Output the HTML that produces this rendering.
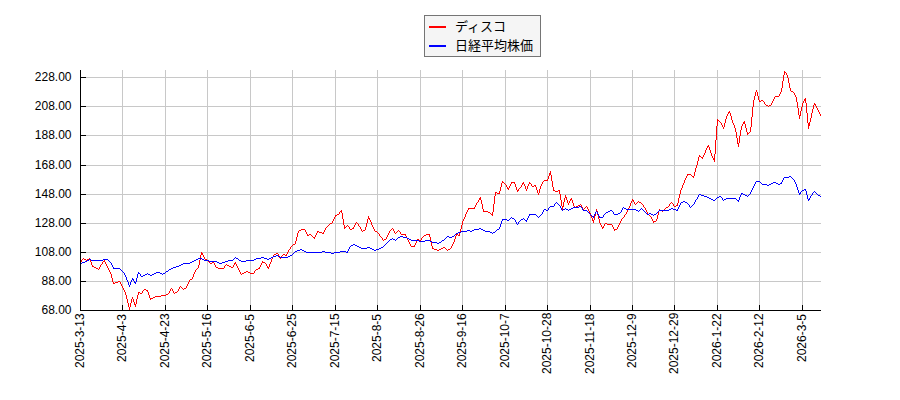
<!DOCTYPE html>
<html><head><meta charset="utf-8"><title>chart</title>
<style>
html,body{margin:0;padding:0;background:#fff;font-family:"Liberation Sans",sans-serif;}
svg{display:block;position:absolute;left:0;top:0}
</style></head>
<body>
<svg width="900" height="400" viewBox="0 0 900 400">
<rect x="0" y="0" width="900" height="400" fill="#ffffff"/>
<rect x="122" y="70" width="1" height="240" fill="#c8c8c8"/>
<rect x="165" y="70" width="1" height="240" fill="#c8c8c8"/>
<rect x="207" y="70" width="1" height="240" fill="#c8c8c8"/>
<rect x="250" y="70" width="1" height="240" fill="#c8c8c8"/>
<rect x="292" y="70" width="1" height="240" fill="#c8c8c8"/>
<rect x="335" y="70" width="1" height="240" fill="#c8c8c8"/>
<rect x="377" y="70" width="1" height="240" fill="#c8c8c8"/>
<rect x="420" y="70" width="1" height="240" fill="#c8c8c8"/>
<rect x="462" y="70" width="1" height="240" fill="#c8c8c8"/>
<rect x="505" y="70" width="1" height="240" fill="#c8c8c8"/>
<rect x="547" y="70" width="1" height="240" fill="#c8c8c8"/>
<rect x="590" y="70" width="1" height="240" fill="#c8c8c8"/>
<rect x="632" y="70" width="1" height="240" fill="#c8c8c8"/>
<rect x="674" y="70" width="1" height="240" fill="#c8c8c8"/>
<rect x="717" y="70" width="1" height="240" fill="#c8c8c8"/>
<rect x="759" y="70" width="1" height="240" fill="#c8c8c8"/>
<rect x="802" y="70" width="1" height="240" fill="#c8c8c8"/>
<rect x="80" y="281" width="741" height="1" fill="#c8c8c8"/>
<rect x="80" y="252" width="741" height="1" fill="#c8c8c8"/>
<rect x="80" y="223" width="741" height="1" fill="#c8c8c8"/>
<rect x="80" y="194" width="741" height="1" fill="#c8c8c8"/>
<rect x="80" y="165" width="741" height="1" fill="#c8c8c8"/>
<rect x="80" y="135" width="741" height="1" fill="#c8c8c8"/>
<rect x="80" y="106" width="741" height="1" fill="#c8c8c8"/>
<rect x="80" y="77" width="741" height="1" fill="#c8c8c8"/>
<path d="M80 262h1v1h-1zM81 260h1v2h-1zM82 259h1v1h-1zM83 258h1v1h-1zM84 259h1v1h-1zM85 259h1v1h-1zM86 260h1v1h-1zM87 259h1v1h-1zM88 259h1v1h-1zM89 258h1v2h-1zM90 260h1v2h-1zM91 262h1v3h-1zM92 265h1v2h-1zM93 266h1v1h-1zM94 267h1v1h-1zM95 267h1v1h-1zM96 268h1v1h-1zM97 268h1v1h-1zM98 269h1v1h-1zM99 267h1v2h-1zM100 265h1v2h-1zM101 264h1v1h-1zM102 262h1v2h-1zM103 261h1v1h-1zM104 260h1v2h-1zM105 262h1v2h-1zM106 264h1v2h-1zM107 266h1v2h-1zM108 268h1v2h-1zM109 270h1v2h-1zM110 272h1v2h-1zM111 274h1v4h-1zM112 278h1v4h-1zM113 282h1v2h-1zM114 283h1v1h-1zM115 282h1v1h-1zM116 282h1v1h-1zM117 282h1v1h-1zM118 281h1v1h-1zM119 281h1v1h-1zM120 282h1v2h-1zM121 284h1v2h-1zM122 286h1v2h-1zM123 288h1v2h-1zM124 290h1v2h-1zM125 292h1v3h-1zM126 295h1v4h-1zM127 299h1v4h-1zM128 303h1v4h-1zM129 307h1v3h-1zM130 303h1v4h-1zM131 299h1v4h-1zM132 297h1v2h-1zM133 299h1v3h-1zM134 302h1v3h-1zM135 304h1v3h-1zM136 299h1v5h-1zM137 295h1v4h-1zM138 292h1v3h-1zM139 292h1v1h-1zM140 293h1v1h-1zM141 293h1v1h-1zM142 291h1v2h-1zM143 290h1v1h-1zM144 289h1v1h-1zM145 289h1v1h-1zM146 290h1v1h-1zM147 290h1v2h-1zM148 292h1v3h-1zM149 295h1v3h-1zM150 298h1v2h-1zM151 298h1v1h-1zM152 298h1v1h-1zM153 297h1v1h-1zM154 297h1v1h-1zM155 296h1v1h-1zM156 296h1v1h-1zM157 296h1v1h-1zM158 296h1v1h-1zM159 296h1v1h-1zM160 296h1v1h-1zM161 295h1v1h-1zM162 295h1v1h-1zM163 295h1v1h-1zM164 295h1v1h-1zM165 295h1v1h-1zM166 294h1v1h-1zM167 294h1v1h-1zM168 293h1v1h-1zM169 291h1v2h-1zM170 289h1v2h-1zM171 288h1v1h-1zM172 289h1v2h-1zM173 291h1v2h-1zM174 293h1v1h-1zM175 292h1v1h-1zM176 292h1v1h-1zM177 291h1v1h-1zM178 289h1v2h-1zM179 287h1v2h-1zM180 286h1v1h-1zM181 287h1v1h-1zM182 288h1v1h-1zM183 289h1v1h-1zM184 288h1v1h-1zM185 288h1v1h-1zM186 286h1v2h-1zM187 284h1v2h-1zM188 282h1v2h-1zM189 280h1v2h-1zM190 279h1v1h-1zM191 279h1v1h-1zM192 277h1v2h-1zM193 274h1v3h-1zM194 272h1v2h-1zM195 270h1v2h-1zM196 269h1v1h-1zM197 268h1v1h-1zM198 265h1v3h-1zM199 260h1v5h-1zM200 255h1v5h-1zM201 252h1v3h-1zM202 253h1v2h-1zM203 255h1v2h-1zM204 257h1v2h-1zM205 259h1v1h-1zM206 259h1v1h-1zM207 260h1v1h-1zM208 261h1v1h-1zM209 262h1v1h-1zM210 263h1v1h-1zM211 263h1v1h-1zM212 262h1v1h-1zM213 262h1v1h-1zM214 263h1v2h-1zM215 265h1v2h-1zM216 267h1v1h-1zM217 267h1v1h-1zM218 268h1v1h-1zM219 268h1v1h-1zM220 268h1v1h-1zM221 268h1v1h-1zM222 268h1v1h-1zM223 268h1v1h-1zM224 266h1v2h-1zM225 265h1v1h-1zM226 264h1v1h-1zM227 265h1v1h-1zM228 265h1v1h-1zM229 266h1v1h-1zM230 266h1v1h-1zM231 267h1v1h-1zM232 267h1v1h-1zM233 265h1v2h-1zM234 263h1v2h-1zM235 262h1v2h-1zM236 264h1v2h-1zM237 266h1v2h-1zM238 268h1v2h-1zM239 270h1v2h-1zM240 272h1v2h-1zM241 274h1v1h-1zM242 273h1v1h-1zM243 273h1v1h-1zM244 272h1v1h-1zM245 272h1v1h-1zM246 271h1v1h-1zM247 271h1v1h-1zM248 272h1v1h-1zM249 272h1v1h-1zM250 273h1v1h-1zM251 273h1v1h-1zM252 273h1v1h-1zM253 273h1v1h-1zM254 271h1v2h-1zM255 270h1v1h-1zM256 269h1v1h-1zM257 269h1v1h-1zM258 268h1v1h-1zM259 267h1v2h-1zM260 265h1v2h-1zM261 263h1v2h-1zM262 261h1v2h-1zM263 262h1v1h-1zM264 262h1v1h-1zM265 263h1v1h-1zM266 264h1v2h-1zM267 266h1v2h-1zM268 267h1v2h-1zM269 264h1v3h-1zM270 262h1v2h-1zM271 259h1v3h-1zM272 257h1v2h-1zM273 255h1v2h-1zM274 254h1v1h-1zM275 254h1v1h-1zM276 253h1v1h-1zM277 253h1v1h-1zM278 254h1v2h-1zM279 256h1v2h-1zM280 258h1v1h-1zM281 256h1v2h-1zM282 255h1v1h-1zM283 254h1v1h-1zM284 254h1v1h-1zM285 255h1v1h-1zM286 254h1v2h-1zM287 252h1v2h-1zM288 250h1v2h-1zM289 249h1v1h-1zM290 247h1v2h-1zM291 246h1v1h-1zM292 245h1v1h-1zM293 244h1v1h-1zM294 244h1v1h-1zM295 241h1v3h-1zM296 237h1v4h-1zM297 233h1v4h-1zM298 231h1v2h-1zM299 230h1v1h-1zM300 230h1v1h-1zM301 229h1v1h-1zM302 229h1v1h-1zM303 229h1v1h-1zM304 229h1v1h-1zM305 230h1v2h-1zM306 232h1v2h-1zM307 234h1v2h-1zM308 235h1v1h-1zM309 234h1v1h-1zM310 234h1v1h-1zM311 235h1v1h-1zM312 236h1v1h-1zM313 237h1v1h-1zM314 237h1v2h-1zM315 235h1v2h-1zM316 233h1v2h-1zM317 231h1v2h-1zM318 231h1v1h-1zM319 232h1v1h-1zM320 232h1v1h-1zM321 232h1v1h-1zM322 233h1v1h-1zM323 232h1v2h-1zM324 230h1v2h-1zM325 228h1v2h-1zM326 227h1v1h-1zM327 226h1v1h-1zM328 225h1v1h-1zM329 224h1v1h-1zM330 223h1v1h-1zM331 223h1v1h-1zM332 221h1v2h-1zM333 219h1v2h-1zM334 217h1v2h-1zM335 215h1v2h-1zM336 215h1v1h-1zM337 214h1v1h-1zM338 214h1v1h-1zM339 212h1v2h-1zM340 211h1v1h-1zM341 210h1v3h-1zM342 213h1v6h-1zM343 219h1v6h-1zM344 225h1v4h-1zM345 227h1v1h-1zM346 226h1v1h-1zM347 225h1v1h-1zM348 226h1v1h-1zM349 227h1v2h-1zM350 229h1v1h-1zM351 229h1v1h-1zM352 228h1v1h-1zM353 227h1v2h-1zM354 225h1v2h-1zM355 223h1v2h-1zM356 222h1v1h-1zM357 223h1v1h-1zM358 224h1v2h-1zM359 226h1v1h-1zM360 227h1v2h-1zM361 229h1v2h-1zM362 231h1v1h-1zM363 230h1v1h-1zM364 230h1v1h-1zM365 227h1v3h-1zM366 223h1v4h-1zM367 219h1v4h-1zM368 216h1v3h-1zM369 218h1v2h-1zM370 220h1v2h-1zM371 222h1v3h-1zM372 225h1v2h-1zM373 227h1v2h-1zM374 229h1v2h-1zM375 231h1v1h-1zM376 231h1v1h-1zM377 232h1v1h-1zM378 233h1v1h-1zM379 234h1v2h-1zM380 236h1v1h-1zM381 237h1v1h-1zM382 238h1v2h-1zM383 240h1v1h-1zM384 239h1v1h-1zM385 239h1v1h-1zM386 237h1v2h-1zM387 235h1v2h-1zM388 233h1v2h-1zM389 231h1v2h-1zM390 230h1v1h-1zM391 229h1v1h-1zM392 228h1v1h-1zM393 229h1v2h-1zM394 231h1v2h-1zM395 233h1v1h-1zM396 232h1v1h-1zM397 231h1v1h-1zM398 230h1v1h-1zM399 231h1v1h-1zM400 232h1v2h-1zM401 234h1v1h-1zM402 234h1v1h-1zM403 234h1v1h-1zM404 234h1v1h-1zM405 234h1v2h-1zM406 236h1v2h-1zM407 238h1v2h-1zM408 240h1v2h-1zM409 242h1v2h-1zM410 244h1v2h-1zM411 246h1v1h-1zM412 246h1v1h-1zM413 246h1v1h-1zM414 245h1v2h-1zM415 243h1v2h-1zM416 241h1v2h-1zM417 239h1v2h-1zM418 239h1v1h-1zM419 240h1v1h-1zM420 240h1v1h-1zM421 238h1v2h-1zM422 237h1v1h-1zM423 236h1v1h-1zM424 235h1v1h-1zM425 235h1v1h-1zM426 234h1v1h-1zM427 234h1v1h-1zM428 234h1v1h-1zM429 234h1v3h-1zM430 237h1v4h-1zM431 241h1v5h-1zM432 246h1v3h-1zM433 248h1v1h-1zM434 249h1v1h-1zM435 249h1v1h-1zM436 249h1v1h-1zM437 250h1v1h-1zM438 250h1v1h-1zM439 249h1v1h-1zM440 249h1v1h-1zM441 248h1v1h-1zM442 248h1v1h-1zM443 247h1v1h-1zM444 247h1v1h-1zM445 248h1v1h-1zM446 249h1v1h-1zM447 250h1v1h-1zM448 249h1v1h-1zM449 249h1v1h-1zM450 248h1v1h-1zM451 246h1v2h-1zM452 244h1v2h-1zM453 242h1v2h-1zM454 239h1v3h-1zM455 236h1v3h-1zM456 234h1v2h-1zM457 234h1v1h-1zM458 235h1v1h-1zM459 233h1v3h-1zM460 229h1v4h-1zM461 225h1v4h-1zM462 221h1v4h-1zM463 219h1v2h-1zM464 217h1v2h-1zM465 214h1v3h-1zM466 212h1v2h-1zM467 210h1v2h-1zM468 208h1v2h-1zM469 208h1v1h-1zM470 208h1v1h-1zM471 208h1v1h-1zM472 208h1v1h-1zM473 208h1v1h-1zM474 207h1v2h-1zM475 205h1v2h-1zM476 203h1v2h-1zM477 202h1v1h-1zM478 200h1v2h-1zM479 198h1v2h-1zM480 197h1v3h-1zM481 200h1v4h-1zM482 204h1v5h-1zM483 209h1v3h-1zM484 211h1v1h-1zM485 211h1v1h-1zM486 211h1v1h-1zM487 211h1v1h-1zM488 212h1v1h-1zM489 212h1v1h-1zM490 213h1v1h-1zM491 214h1v1h-1zM492 212h1v4h-1zM493 204h1v8h-1zM494 196h1v8h-1zM495 192h1v4h-1zM496 192h1v1h-1zM497 193h1v1h-1zM498 193h1v1h-1zM499 191h1v3h-1zM500 187h1v4h-1zM501 183h1v4h-1zM502 181h1v2h-1zM503 182h1v1h-1zM504 183h1v1h-1zM505 184h1v1h-1zM506 185h1v2h-1zM507 187h1v2h-1zM508 188h1v2h-1zM509 186h1v2h-1zM510 184h1v2h-1zM511 182h1v2h-1zM512 182h1v1h-1zM513 182h1v1h-1zM514 182h1v2h-1zM515 184h1v3h-1zM516 187h1v3h-1zM517 190h1v2h-1zM518 189h1v2h-1zM519 188h1v1h-1zM520 187h1v1h-1zM521 185h1v2h-1zM522 183h1v2h-1zM523 182h1v2h-1zM524 184h1v2h-1zM525 186h1v3h-1zM526 189h1v2h-1zM527 186h1v3h-1zM528 184h1v2h-1zM529 182h1v2h-1zM530 183h1v1h-1zM531 184h1v2h-1zM532 186h1v1h-1zM533 186h1v1h-1zM534 185h1v1h-1zM535 185h1v2h-1zM536 187h1v3h-1zM537 190h1v3h-1zM538 193h1v2h-1zM539 189h1v4h-1zM540 186h1v3h-1zM541 184h1v2h-1zM542 182h1v2h-1zM543 181h1v1h-1zM544 180h1v1h-1zM545 180h1v1h-1zM546 180h1v1h-1zM547 179h1v2h-1zM548 176h1v3h-1zM549 173h1v3h-1zM550 171h1v4h-1zM551 175h1v6h-1zM552 181h1v6h-1zM553 187h1v4h-1zM554 190h1v1h-1zM555 191h1v1h-1zM556 191h1v1h-1zM557 191h1v1h-1zM558 190h1v1h-1zM559 190h1v4h-1zM560 194h1v6h-1zM561 200h1v6h-1zM562 206h1v4h-1zM563 202h1v5h-1zM564 198h1v4h-1zM565 195h1v3h-1zM566 197h1v3h-1zM567 200h1v3h-1zM568 203h1v2h-1zM569 201h1v2h-1zM570 199h1v2h-1zM571 198h1v2h-1zM572 200h1v3h-1zM573 203h1v3h-1zM574 206h1v2h-1zM575 207h1v1h-1zM576 206h1v1h-1zM577 206h1v1h-1zM578 205h1v1h-1zM579 205h1v1h-1zM580 204h1v1h-1zM581 205h1v2h-1zM582 207h1v2h-1zM583 209h1v1h-1zM584 208h1v1h-1zM585 207h1v1h-1zM586 206h1v1h-1zM587 207h1v2h-1zM588 209h1v2h-1zM589 211h1v2h-1zM590 213h1v3h-1zM591 216h1v2h-1zM592 218h1v3h-1zM593 220h1v3h-1zM594 216h1v4h-1zM595 212h1v4h-1zM596 209h1v3h-1zM597 211h1v4h-1zM598 215h1v4h-1zM599 219h1v4h-1zM600 223h1v2h-1zM601 225h1v2h-1zM602 227h1v2h-1zM603 226h1v2h-1zM604 224h1v2h-1zM605 223h1v1h-1zM606 223h1v1h-1zM607 224h1v1h-1zM608 224h1v1h-1zM609 224h1v1h-1zM610 224h1v1h-1zM611 224h1v1h-1zM612 225h1v2h-1zM613 227h1v2h-1zM614 229h1v2h-1zM615 229h1v1h-1zM616 229h1v1h-1zM617 227h1v2h-1zM618 225h1v2h-1zM619 223h1v2h-1zM620 221h1v2h-1zM621 219h1v2h-1zM622 218h1v1h-1zM623 217h1v1h-1zM624 215h1v2h-1zM625 214h1v1h-1zM626 212h1v2h-1zM627 210h1v2h-1zM628 208h1v2h-1zM629 206h1v2h-1zM630 203h1v3h-1zM631 201h1v2h-1zM632 199h1v2h-1zM633 200h1v2h-1zM634 202h1v2h-1zM635 204h1v1h-1zM636 203h1v1h-1zM637 202h1v1h-1zM638 201h1v1h-1zM639 202h1v1h-1zM640 202h1v1h-1zM641 203h1v1h-1zM642 204h1v1h-1zM643 205h1v2h-1zM644 207h1v1h-1zM645 208h1v2h-1zM646 210h1v2h-1zM647 212h1v2h-1zM648 214h1v1h-1zM649 215h1v1h-1zM650 216h1v1h-1zM651 217h1v2h-1zM652 219h1v2h-1zM653 221h1v2h-1zM654 221h1v1h-1zM655 221h1v1h-1zM656 219h1v2h-1zM657 215h1v4h-1zM658 211h1v4h-1zM659 209h1v2h-1zM660 210h1v1h-1zM661 210h1v1h-1zM662 211h1v1h-1zM663 210h1v1h-1zM664 209h1v1h-1zM665 208h1v1h-1zM666 207h1v1h-1zM667 207h1v1h-1zM668 206h1v1h-1zM669 204h1v2h-1zM670 203h1v1h-1zM671 202h1v1h-1zM672 203h1v1h-1zM673 204h1v2h-1zM674 206h1v1h-1zM675 206h1v1h-1zM676 205h1v1h-1zM677 203h1v3h-1zM678 198h1v5h-1zM679 194h1v4h-1zM680 190h1v4h-1zM681 188h1v2h-1zM682 185h1v3h-1zM683 183h1v2h-1zM684 180h1v3h-1zM685 178h1v2h-1zM686 176h1v2h-1zM687 174h1v2h-1zM688 174h1v1h-1zM689 174h1v1h-1zM690 174h1v1h-1zM691 175h1v1h-1zM692 176h1v1h-1zM693 176h1v2h-1zM694 172h1v4h-1zM695 168h1v4h-1zM696 165h1v3h-1zM697 161h1v4h-1zM698 157h1v4h-1zM699 155h1v2h-1zM700 156h1v1h-1zM701 157h1v1h-1zM702 157h1v2h-1zM703 155h1v2h-1zM704 153h1v2h-1zM705 150h1v3h-1zM706 148h1v2h-1zM707 146h1v2h-1zM708 145h1v2h-1zM709 147h1v3h-1zM710 150h1v3h-1zM711 153h1v3h-1zM712 156h1v2h-1zM713 158h1v2h-1zM714 154h1v8h-1zM715 140h1v14h-1zM716 126h1v14h-1zM717 119h1v7h-1zM718 120h1v1h-1zM719 121h1v1h-1zM720 122h1v1h-1zM721 123h1v2h-1zM722 125h1v2h-1zM723 127h1v2h-1zM724 123h1v4h-1zM725 119h1v4h-1zM726 116h1v3h-1zM727 114h1v2h-1zM728 112h1v2h-1zM729 111h1v2h-1zM730 113h1v3h-1zM731 116h1v4h-1zM732 120h1v3h-1zM733 123h1v2h-1zM734 125h1v3h-1zM735 128h1v4h-1zM736 132h1v6h-1zM737 138h1v6h-1zM738 143h1v4h-1zM739 136h1v7h-1zM740 130h1v6h-1zM741 126h1v4h-1zM742 124h1v2h-1zM743 122h1v2h-1zM744 121h1v3h-1zM745 124h1v4h-1zM746 128h1v4h-1zM747 132h1v3h-1zM748 133h1v1h-1zM749 132h1v1h-1zM750 127h1v5h-1zM751 117h1v10h-1zM752 107h1v10h-1zM753 100h1v7h-1zM754 96h1v4h-1zM755 92h1v4h-1zM756 90h1v2h-1zM757 92h1v4h-1zM758 96h1v4h-1zM759 100h1v2h-1zM760 101h1v1h-1zM761 100h1v1h-1zM762 100h1v1h-1zM763 101h1v1h-1zM764 102h1v2h-1zM765 104h1v1h-1zM766 105h1v1h-1zM767 105h1v1h-1zM768 106h1v1h-1zM769 105h1v1h-1zM770 105h1v1h-1zM771 103h1v2h-1zM772 101h1v2h-1zM773 99h1v2h-1zM774 97h1v2h-1zM775 96h1v1h-1zM776 96h1v1h-1zM777 96h1v1h-1zM778 96h1v1h-1zM779 94h1v2h-1zM780 92h1v2h-1zM781 88h1v4h-1zM782 81h1v7h-1zM783 75h1v6h-1zM784 71h1v4h-1zM785 72h1v1h-1zM786 73h1v2h-1zM787 75h1v3h-1zM788 78h1v5h-1zM789 83h1v5h-1zM790 88h1v3h-1zM791 91h1v1h-1zM792 91h1v1h-1zM793 92h1v1h-1zM794 93h1v2h-1zM795 95h1v2h-1zM796 97h1v5h-1zM797 102h1v6h-1zM798 108h1v7h-1zM799 115h1v4h-1zM800 111h1v5h-1zM801 107h1v4h-1zM802 103h1v4h-1zM803 101h1v2h-1zM804 99h1v2h-1zM805 98h1v5h-1zM806 103h1v10h-1zM807 113h1v10h-1zM808 123h1v6h-1zM809 122h1v4h-1zM810 118h1v4h-1zM811 113h1v5h-1zM812 109h1v4h-1zM813 105h1v4h-1zM814 103h1v2h-1zM815 104h1v2h-1zM816 106h1v2h-1zM817 108h1v2h-1zM818 110h1v2h-1zM819 112h1v2h-1zM820 114h1v2h-1z" fill="#ff0000" shape-rendering="crispEdges"/>
<path d="M80 263h1v1h-1zM81 263h1v1h-1zM82 262h1v1h-1zM83 262h1v1h-1zM84 262h1v1h-1zM85 261h1v1h-1zM86 261h1v1h-1zM87 260h1v1h-1zM88 260h1v1h-1zM89 259h1v1h-1zM90 259h1v1h-1zM91 260h1v1h-1zM92 260h1v1h-1zM93 260h1v1h-1zM94 260h1v1h-1zM95 260h1v1h-1zM96 260h1v1h-1zM97 260h1v1h-1zM98 260h1v1h-1zM99 260h1v1h-1zM100 260h1v1h-1zM101 260h1v1h-1zM102 260h1v1h-1zM103 259h1v1h-1zM104 259h1v1h-1zM105 259h1v1h-1zM106 259h1v1h-1zM107 259h1v1h-1zM108 260h1v1h-1zM109 261h1v1h-1zM110 262h1v1h-1zM111 263h1v2h-1zM112 265h1v2h-1zM113 267h1v2h-1zM114 268h1v1h-1zM115 268h1v1h-1zM116 268h1v1h-1zM117 268h1v1h-1zM118 268h1v1h-1zM119 268h1v1h-1zM120 269h1v1h-1zM121 270h1v1h-1zM122 271h1v1h-1zM123 272h1v1h-1zM124 273h1v2h-1zM125 275h1v2h-1zM126 277h1v3h-1zM127 280h1v2h-1zM128 282h1v3h-1zM129 285h1v2h-1zM130 282h1v3h-1zM131 280h1v2h-1zM132 278h1v2h-1zM133 279h1v2h-1zM134 281h1v2h-1zM135 282h1v2h-1zM136 278h1v4h-1zM137 274h1v4h-1zM138 272h1v2h-1zM139 273h1v1h-1zM140 274h1v2h-1zM141 276h1v1h-1zM142 276h1v1h-1zM143 275h1v1h-1zM144 275h1v1h-1zM145 274h1v1h-1zM146 274h1v1h-1zM147 273h1v1h-1zM148 274h1v1h-1zM149 274h1v1h-1zM150 275h1v1h-1zM151 275h1v1h-1zM152 274h1v1h-1zM153 274h1v1h-1zM154 273h1v1h-1zM155 273h1v1h-1zM156 272h1v1h-1zM157 272h1v1h-1zM158 272h1v1h-1zM159 272h1v1h-1zM160 273h1v1h-1zM161 273h1v1h-1zM162 274h1v1h-1zM163 273h1v1h-1zM164 273h1v1h-1zM165 272h1v1h-1zM166 271h1v1h-1zM167 271h1v1h-1zM168 270h1v1h-1zM169 269h1v1h-1zM170 269h1v1h-1zM171 268h1v1h-1zM172 268h1v1h-1zM173 267h1v1h-1zM174 267h1v1h-1zM175 267h1v1h-1zM176 266h1v1h-1zM177 266h1v1h-1zM178 266h1v1h-1zM179 265h1v1h-1zM180 265h1v1h-1zM181 264h1v1h-1zM182 264h1v1h-1zM183 263h1v1h-1zM184 263h1v1h-1zM185 263h1v1h-1zM186 263h1v1h-1zM187 263h1v1h-1zM188 263h1v1h-1zM189 263h1v1h-1zM190 262h1v1h-1zM191 262h1v1h-1zM192 261h1v1h-1zM193 261h1v1h-1zM194 260h1v1h-1zM195 260h1v1h-1zM196 259h1v1h-1zM197 259h1v1h-1zM198 258h1v1h-1zM199 258h1v1h-1zM200 258h1v1h-1zM201 258h1v1h-1zM202 259h1v1h-1zM203 259h1v1h-1zM204 260h1v1h-1zM205 260h1v1h-1zM206 260h1v1h-1zM207 260h1v1h-1zM208 260h1v1h-1zM209 261h1v1h-1zM210 261h1v1h-1zM211 261h1v1h-1zM212 261h1v1h-1zM213 261h1v1h-1zM214 261h1v1h-1zM215 261h1v1h-1zM216 261h1v1h-1zM217 262h1v1h-1zM218 262h1v1h-1zM219 263h1v1h-1zM220 263h1v1h-1zM221 263h1v1h-1zM222 262h1v1h-1zM223 262h1v1h-1zM224 262h1v1h-1zM225 261h1v1h-1zM226 261h1v1h-1zM227 261h1v1h-1zM228 260h1v1h-1zM229 260h1v1h-1zM230 260h1v1h-1zM231 260h1v1h-1zM232 260h1v1h-1zM233 259h1v1h-1zM234 258h1v1h-1zM235 257h1v1h-1zM236 258h1v1h-1zM237 258h1v1h-1zM238 259h1v1h-1zM239 260h1v1h-1zM240 260h1v1h-1zM241 261h1v1h-1zM242 261h1v1h-1zM243 261h1v1h-1zM244 261h1v1h-1zM245 261h1v1h-1zM246 260h1v1h-1zM247 260h1v1h-1zM248 260h1v1h-1zM249 260h1v1h-1zM250 260h1v1h-1zM251 260h1v1h-1zM252 260h1v1h-1zM253 260h1v1h-1zM254 259h1v1h-1zM255 259h1v1h-1zM256 258h1v1h-1zM257 258h1v1h-1zM258 258h1v1h-1zM259 258h1v1h-1zM260 258h1v1h-1zM261 257h1v1h-1zM262 257h1v1h-1zM263 257h1v1h-1zM264 258h1v1h-1zM265 258h1v1h-1zM266 258h1v1h-1zM267 259h1v1h-1zM268 259h1v1h-1zM269 258h1v1h-1zM270 258h1v1h-1zM271 257h1v1h-1zM272 257h1v1h-1zM273 256h1v1h-1zM274 256h1v1h-1zM275 256h1v1h-1zM276 255h1v1h-1zM277 255h1v1h-1zM278 256h1v1h-1zM279 256h1v1h-1zM280 257h1v1h-1zM281 257h1v1h-1zM282 257h1v1h-1zM283 257h1v1h-1zM284 257h1v1h-1zM285 257h1v1h-1zM286 257h1v1h-1zM287 257h1v1h-1zM288 256h1v1h-1zM289 256h1v1h-1zM290 255h1v1h-1zM291 255h1v1h-1zM292 254h1v1h-1zM293 253h1v1h-1zM294 252h1v1h-1zM295 251h1v1h-1zM296 251h1v1h-1zM297 250h1v1h-1zM298 250h1v1h-1zM299 250h1v1h-1zM300 249h1v1h-1zM301 249h1v1h-1zM302 250h1v1h-1zM303 250h1v1h-1zM304 251h1v1h-1zM305 251h1v1h-1zM306 252h1v1h-1zM307 252h1v1h-1zM308 252h1v1h-1zM309 252h1v1h-1zM310 252h1v1h-1zM311 252h1v1h-1zM312 252h1v1h-1zM313 252h1v1h-1zM314 252h1v1h-1zM315 252h1v1h-1zM316 252h1v1h-1zM317 252h1v1h-1zM318 252h1v1h-1zM319 252h1v1h-1zM320 252h1v1h-1zM321 252h1v1h-1zM322 251h1v1h-1zM323 251h1v1h-1zM324 251h1v1h-1zM325 252h1v1h-1zM326 252h1v1h-1zM327 252h1v1h-1zM328 252h1v1h-1zM329 252h1v1h-1zM330 252h1v1h-1zM331 253h1v1h-1zM332 253h1v1h-1zM333 253h1v1h-1zM334 252h1v1h-1zM335 252h1v1h-1zM336 252h1v1h-1zM337 252h1v1h-1zM338 252h1v1h-1zM339 252h1v1h-1zM340 251h1v1h-1zM341 251h1v1h-1zM342 251h1v1h-1zM343 251h1v1h-1zM344 251h1v1h-1zM345 251h1v1h-1zM346 252h1v1h-1zM347 251h1v2h-1zM348 249h1v2h-1zM349 247h1v2h-1zM350 246h1v1h-1zM351 245h1v1h-1zM352 245h1v1h-1zM353 244h1v1h-1zM354 244h1v1h-1zM355 245h1v1h-1zM356 245h1v1h-1zM357 246h1v1h-1zM358 246h1v1h-1zM359 247h1v1h-1zM360 247h1v1h-1zM361 248h1v1h-1zM362 248h1v1h-1zM363 248h1v1h-1zM364 248h1v1h-1zM365 248h1v1h-1zM366 248h1v1h-1zM367 247h1v1h-1zM368 247h1v1h-1zM369 247h1v1h-1zM370 248h1v1h-1zM371 248h1v1h-1zM372 249h1v1h-1zM373 249h1v1h-1zM374 250h1v1h-1zM375 250h1v1h-1zM376 249h1v1h-1zM377 249h1v1h-1zM378 249h1v1h-1zM379 248h1v1h-1zM380 248h1v1h-1zM381 247h1v1h-1zM382 247h1v1h-1zM383 246h1v1h-1zM384 245h1v1h-1zM385 244h1v1h-1zM386 243h1v1h-1zM387 242h1v1h-1zM388 241h1v1h-1zM389 240h1v1h-1zM390 239h1v1h-1zM391 239h1v1h-1zM392 238h1v1h-1zM393 239h1v1h-1zM394 239h1v1h-1zM395 240h1v1h-1zM396 239h1v1h-1zM397 238h1v1h-1zM398 237h1v1h-1zM399 237h1v1h-1zM400 236h1v1h-1zM401 236h1v1h-1zM402 236h1v1h-1zM403 237h1v1h-1zM404 237h1v1h-1zM405 237h1v1h-1zM406 237h1v1h-1zM407 238h1v1h-1zM408 238h1v1h-1zM409 239h1v1h-1zM410 239h1v1h-1zM411 240h1v1h-1zM412 240h1v1h-1zM413 240h1v1h-1zM414 240h1v1h-1zM415 240h1v1h-1zM416 240h1v1h-1zM417 240h1v1h-1zM418 240h1v1h-1zM419 241h1v1h-1zM420 241h1v1h-1zM421 241h1v1h-1zM422 241h1v1h-1zM423 241h1v1h-1zM424 241h1v1h-1zM425 240h1v1h-1zM426 240h1v1h-1zM427 240h1v1h-1zM428 240h1v1h-1zM429 240h1v1h-1zM430 241h1v1h-1zM431 241h1v1h-1zM432 242h1v1h-1zM433 242h1v1h-1zM434 242h1v1h-1zM435 242h1v1h-1zM436 242h1v1h-1zM437 243h1v1h-1zM438 243h1v1h-1zM439 242h1v1h-1zM440 242h1v1h-1zM441 241h1v1h-1zM442 240h1v1h-1zM443 240h1v1h-1zM444 239h1v1h-1zM445 238h1v1h-1zM446 237h1v1h-1zM447 236h1v1h-1zM448 236h1v1h-1zM449 237h1v1h-1zM450 237h1v1h-1zM451 237h1v1h-1zM452 236h1v1h-1zM453 236h1v1h-1zM454 235h1v1h-1zM455 234h1v1h-1zM456 233h1v1h-1zM457 233h1v1h-1zM458 232h1v1h-1zM459 232h1v1h-1zM460 232h1v1h-1zM461 231h1v1h-1zM462 231h1v1h-1zM463 231h1v1h-1zM464 231h1v1h-1zM465 231h1v1h-1zM466 231h1v1h-1zM467 230h1v1h-1zM468 230h1v1h-1zM469 230h1v1h-1zM470 231h1v1h-1zM471 231h1v1h-1zM472 230h1v1h-1zM473 230h1v1h-1zM474 229h1v1h-1zM475 229h1v1h-1zM476 229h1v1h-1zM477 229h1v1h-1zM478 229h1v1h-1zM479 228h1v1h-1zM480 228h1v1h-1zM481 229h1v1h-1zM482 229h1v1h-1zM483 230h1v1h-1zM484 230h1v1h-1zM485 231h1v1h-1zM486 231h1v1h-1zM487 231h1v1h-1zM488 231h1v1h-1zM489 231h1v1h-1zM490 232h1v1h-1zM491 232h1v1h-1zM492 233h1v1h-1zM493 232h1v1h-1zM494 232h1v1h-1zM495 231h1v1h-1zM496 230h1v1h-1zM497 229h1v1h-1zM498 229h1v1h-1zM499 227h1v2h-1zM500 224h1v3h-1zM501 221h1v3h-1zM502 219h1v2h-1zM503 219h1v1h-1zM504 219h1v1h-1zM505 219h1v1h-1zM506 219h1v1h-1zM507 220h1v1h-1zM508 220h1v1h-1zM509 219h1v1h-1zM510 218h1v1h-1zM511 217h1v1h-1zM512 218h1v1h-1zM513 218h1v1h-1zM514 219h1v1h-1zM515 220h1v2h-1zM516 222h1v2h-1zM517 224h1v1h-1zM518 222h1v2h-1zM519 221h1v1h-1zM520 220h1v1h-1zM521 219h1v1h-1zM522 219h1v1h-1zM523 218h1v1h-1zM524 219h1v1h-1zM525 220h1v1h-1zM526 220h1v2h-1zM527 218h1v2h-1zM528 216h1v2h-1zM529 214h1v2h-1zM530 214h1v1h-1zM531 214h1v1h-1zM532 214h1v1h-1zM533 214h1v1h-1zM534 214h1v1h-1zM535 214h1v1h-1zM536 215h1v1h-1zM537 216h1v1h-1zM538 217h1v1h-1zM539 216h1v1h-1zM540 215h1v1h-1zM541 214h1v1h-1zM542 212h1v2h-1zM543 210h1v2h-1zM544 209h1v1h-1zM545 209h1v1h-1zM546 210h1v1h-1zM547 210h1v1h-1zM548 208h1v2h-1zM549 207h1v1h-1zM550 206h1v1h-1zM551 206h1v1h-1zM552 206h1v1h-1zM553 206h1v1h-1zM554 204h1v2h-1zM555 203h1v1h-1zM556 202h1v1h-1zM557 203h1v1h-1zM558 204h1v1h-1zM559 205h1v1h-1zM560 206h1v2h-1zM561 208h1v2h-1zM562 210h1v1h-1zM563 209h1v1h-1zM564 209h1v1h-1zM565 208h1v1h-1zM566 209h1v1h-1zM567 209h1v1h-1zM568 210h1v1h-1zM569 209h1v1h-1zM570 209h1v1h-1zM571 208h1v1h-1zM572 208h1v1h-1zM573 207h1v1h-1zM574 207h1v1h-1zM575 207h1v1h-1zM576 207h1v1h-1zM577 207h1v1h-1zM578 207h1v1h-1zM579 206h1v1h-1zM580 206h1v1h-1zM581 207h1v1h-1zM582 208h1v2h-1zM583 210h1v1h-1zM584 210h1v1h-1zM585 210h1v1h-1zM586 210h1v1h-1zM587 211h1v1h-1zM588 212h1v1h-1zM589 213h1v1h-1zM590 214h1v1h-1zM591 215h1v1h-1zM592 216h1v1h-1zM593 216h1v2h-1zM594 214h1v2h-1zM595 212h1v2h-1zM596 211h1v1h-1zM597 212h1v2h-1zM598 214h1v2h-1zM599 216h1v2h-1zM600 217h1v1h-1zM601 217h1v1h-1zM602 217h1v1h-1zM603 215h1v2h-1zM604 214h1v1h-1zM605 213h1v1h-1zM606 212h1v1h-1zM607 212h1v1h-1zM608 211h1v1h-1zM609 211h1v1h-1zM610 210h1v1h-1zM611 210h1v1h-1zM612 211h1v1h-1zM613 212h1v2h-1zM614 214h1v1h-1zM615 214h1v1h-1zM616 214h1v1h-1zM617 214h1v1h-1zM618 213h1v1h-1zM619 213h1v1h-1zM620 212h1v1h-1zM621 210h1v2h-1zM622 208h1v2h-1zM623 207h1v1h-1zM624 208h1v1h-1zM625 208h1v1h-1zM626 209h1v1h-1zM627 209h1v1h-1zM628 209h1v1h-1zM629 209h1v1h-1zM630 209h1v1h-1zM631 209h1v1h-1zM632 209h1v1h-1zM633 209h1v1h-1zM634 209h1v1h-1zM635 209h1v1h-1zM636 210h1v1h-1zM637 210h1v1h-1zM638 211h1v1h-1zM639 210h1v1h-1zM640 209h1v1h-1zM641 208h1v1h-1zM642 209h1v1h-1zM643 210h1v1h-1zM644 211h1v1h-1zM645 212h1v1h-1zM646 213h1v1h-1zM647 214h1v1h-1zM648 214h1v1h-1zM649 213h1v1h-1zM650 213h1v1h-1zM651 214h1v1h-1zM652 214h1v1h-1zM653 215h1v1h-1zM654 214h1v1h-1zM655 214h1v1h-1zM656 213h1v1h-1zM657 212h1v1h-1zM658 211h1v1h-1zM659 210h1v1h-1zM660 210h1v1h-1zM661 210h1v1h-1zM662 210h1v1h-1zM663 210h1v1h-1zM664 210h1v1h-1zM665 210h1v1h-1zM666 210h1v1h-1zM667 210h1v1h-1zM668 210h1v1h-1zM669 209h1v1h-1zM670 209h1v1h-1zM671 208h1v1h-1zM672 208h1v1h-1zM673 209h1v1h-1zM674 209h1v1h-1zM675 209h1v1h-1zM676 210h1v1h-1zM677 209h1v2h-1zM678 207h1v2h-1zM679 205h1v2h-1zM680 203h1v2h-1zM681 202h1v1h-1zM682 202h1v1h-1zM683 201h1v1h-1zM684 201h1v1h-1zM685 202h1v1h-1zM686 202h1v1h-1zM687 203h1v1h-1zM688 204h1v1h-1zM689 205h1v2h-1zM690 207h1v1h-1zM691 206h1v1h-1zM692 205h1v1h-1zM693 204h1v1h-1zM694 202h1v2h-1zM695 200h1v2h-1zM696 199h1v1h-1zM697 197h1v2h-1zM698 195h1v2h-1zM699 194h1v1h-1zM700 194h1v1h-1zM701 195h1v1h-1zM702 195h1v1h-1zM703 195h1v1h-1zM704 196h1v1h-1zM705 196h1v1h-1zM706 196h1v1h-1zM707 197h1v1h-1zM708 197h1v1h-1zM709 198h1v1h-1zM710 198h1v1h-1zM711 199h1v1h-1zM712 199h1v1h-1zM713 200h1v1h-1zM714 200h1v1h-1zM715 199h1v1h-1zM716 198h1v1h-1zM717 197h1v1h-1zM718 197h1v1h-1zM719 196h1v1h-1zM720 196h1v1h-1zM721 197h1v1h-1zM722 198h1v2h-1zM723 200h1v1h-1zM724 199h1v1h-1zM725 199h1v1h-1zM726 198h1v1h-1zM727 198h1v1h-1zM728 198h1v1h-1zM729 198h1v1h-1zM730 198h1v1h-1zM731 198h1v1h-1zM732 198h1v1h-1zM733 198h1v1h-1zM734 198h1v1h-1zM735 198h1v1h-1zM736 199h1v1h-1zM737 200h1v1h-1zM738 200h1v2h-1zM739 197h1v3h-1zM740 195h1v2h-1zM741 193h1v2h-1zM742 193h1v1h-1zM743 194h1v1h-1zM744 194h1v1h-1zM745 195h1v1h-1zM746 195h1v1h-1zM747 196h1v1h-1zM748 195h1v1h-1zM749 194h1v1h-1zM750 192h1v2h-1zM751 190h1v2h-1zM752 188h1v2h-1zM753 186h1v2h-1zM754 184h1v2h-1zM755 182h1v2h-1zM756 181h1v1h-1zM757 181h1v1h-1zM758 181h1v1h-1zM759 181h1v1h-1zM760 182h1v1h-1zM761 183h1v1h-1zM762 184h1v1h-1zM763 184h1v1h-1zM764 184h1v1h-1zM765 184h1v1h-1zM766 184h1v1h-1zM767 185h1v1h-1zM768 185h1v1h-1zM769 184h1v1h-1zM770 184h1v1h-1zM771 183h1v1h-1zM772 183h1v1h-1zM773 182h1v1h-1zM774 182h1v1h-1zM775 182h1v1h-1zM776 183h1v1h-1zM777 183h1v1h-1zM778 184h1v1h-1zM779 184h1v1h-1zM780 183h1v1h-1zM781 182h1v2h-1zM782 180h1v2h-1zM783 178h1v2h-1zM784 177h1v1h-1zM785 177h1v1h-1zM786 177h1v1h-1zM787 177h1v1h-1zM788 177h1v1h-1zM789 176h1v1h-1zM790 176h1v1h-1zM791 177h1v1h-1zM792 178h1v1h-1zM793 179h1v1h-1zM794 180h1v2h-1zM795 182h1v2h-1zM796 184h1v3h-1zM797 187h1v3h-1zM798 190h1v3h-1zM799 193h1v2h-1zM800 192h1v2h-1zM801 191h1v1h-1zM802 190h1v1h-1zM803 190h1v1h-1zM804 189h1v1h-1zM805 189h1v2h-1zM806 191h1v4h-1zM807 195h1v4h-1zM808 199h1v2h-1zM809 198h1v2h-1zM810 196h1v2h-1zM811 195h1v1h-1zM812 193h1v2h-1zM813 192h1v1h-1zM814 191h1v1h-1zM815 192h1v1h-1zM816 193h1v1h-1zM817 194h1v1h-1zM818 195h1v1h-1zM819 195h1v1h-1zM820 196h1v1h-1z" fill="#0000ff" shape-rendering="crispEdges"/>
<rect x="80" y="70" width="1" height="241" fill="#000"/>
<rect x="80" y="310" width="741" height="1" fill="#000"/>
<rect x="81" y="281" width="5" height="1" fill="#000"/>
<rect x="81" y="252" width="5" height="1" fill="#000"/>
<rect x="81" y="223" width="5" height="1" fill="#000"/>
<rect x="81" y="194" width="5" height="1" fill="#000"/>
<rect x="81" y="165" width="5" height="1" fill="#000"/>
<rect x="81" y="135" width="5" height="1" fill="#000"/>
<rect x="81" y="106" width="5" height="1" fill="#000"/>
<rect x="81" y="77" width="5" height="1" fill="#000"/>
<rect x="81" y="310" width="5" height="1" fill="#000"/>
<rect x="80" y="305" width="1" height="5" fill="#000"/>
<rect x="122" y="305" width="1" height="5" fill="#000"/>
<rect x="165" y="305" width="1" height="5" fill="#000"/>
<rect x="207" y="305" width="1" height="5" fill="#000"/>
<rect x="250" y="305" width="1" height="5" fill="#000"/>
<rect x="292" y="305" width="1" height="5" fill="#000"/>
<rect x="335" y="305" width="1" height="5" fill="#000"/>
<rect x="377" y="305" width="1" height="5" fill="#000"/>
<rect x="420" y="305" width="1" height="5" fill="#000"/>
<rect x="462" y="305" width="1" height="5" fill="#000"/>
<rect x="505" y="305" width="1" height="5" fill="#000"/>
<rect x="547" y="305" width="1" height="5" fill="#000"/>
<rect x="590" y="305" width="1" height="5" fill="#000"/>
<rect x="632" y="305" width="1" height="5" fill="#000"/>
<rect x="674" y="305" width="1" height="5" fill="#000"/>
<rect x="717" y="305" width="1" height="5" fill="#000"/>
<rect x="759" y="305" width="1" height="5" fill="#000"/>
<rect x="802" y="305" width="1" height="5" fill="#000"/>
<g font-family="&quot;Liberation Sans&quot;, sans-serif" font-size="12" fill="#000" text-anchor="end">
<text x="71.5" y="314">68.00</text>
<text x="71.5" y="285">88.00</text>
<text x="71.5" y="256">108.00</text>
<text x="71.5" y="227">128.00</text>
<text x="71.5" y="198">148.00</text>
<text x="71.5" y="169">168.00</text>
<text x="71.5" y="139">188.00</text>
<text x="71.5" y="110">208.00</text>
<text x="71.5" y="81">228.00</text>
</g>
<g font-family="&quot;Liberation Sans&quot;, sans-serif" font-size="12" fill="#000">
<text transform="translate(84.2 368) rotate(-90)" x="0" y="-0.5">2025-3-13</text>
<text transform="translate(126.2 362) rotate(-90)" x="0" y="-0.5">2025-4-3</text>
<text transform="translate(169.2 368) rotate(-90)" x="0" y="-0.5">2025-4-23</text>
<text transform="translate(211.2 368) rotate(-90)" x="0" y="-0.5">2025-5-16</text>
<text transform="translate(254.2 362) rotate(-90)" x="0" y="-0.5">2025-6-5</text>
<text transform="translate(296.2 368) rotate(-90)" x="0" y="-0.5">2025-6-25</text>
<text transform="translate(339.2 368) rotate(-90)" x="0" y="-0.5">2025-7-15</text>
<text transform="translate(381.2 362) rotate(-90)" x="0" y="-0.5">2025-8-5</text>
<text transform="translate(424.2 368) rotate(-90)" x="0" y="-0.5">2025-8-26</text>
<text transform="translate(466.2 368) rotate(-90)" x="0" y="-0.5">2025-9-16</text>
<text transform="translate(509.2 368) rotate(-90)" x="0" y="-0.5">2025-10-7</text>
<text transform="translate(551.2 374) rotate(-90)" x="0" y="-0.5">2025-10-28</text>
<text transform="translate(594.2 374) rotate(-90)" x="0" y="-0.5">2025-11-18</text>
<text transform="translate(636.2 368) rotate(-90)" x="0" y="-0.5">2025-12-9</text>
<text transform="translate(678.2 374) rotate(-90)" x="0" y="-0.5">2025-12-29</text>
<text transform="translate(721.2 368) rotate(-90)" x="0" y="-0.5">2026-1-22</text>
<text transform="translate(763.2 368) rotate(-90)" x="0" y="-0.5">2026-2-12</text>
<text transform="translate(806.2 362) rotate(-90)" x="0" y="-0.5">2026-3-5</text>
</g>
<rect x="424.5" y="15.5" width="116" height="41" fill="#f5f5f5" stroke="#757575" stroke-width="1"/>
<rect x="429" y="26" width="17" height="2" fill="#ff0000"/>
<rect x="429" y="45" width="17" height="2" fill="#0000ff"/>
<text x="455" y="30.7" font-family="&quot;Liberation Sans&quot;, &quot;Noto Sans CJK JP&quot;, sans-serif" font-size="13" fill="#000">ディスコ</text>
<text x="455" y="49.7" font-family="&quot;Liberation Sans&quot;, &quot;Noto Sans CJK JP&quot;, sans-serif" font-size="13" fill="#000">日経平均株価</text>
</svg>
</body></html>
